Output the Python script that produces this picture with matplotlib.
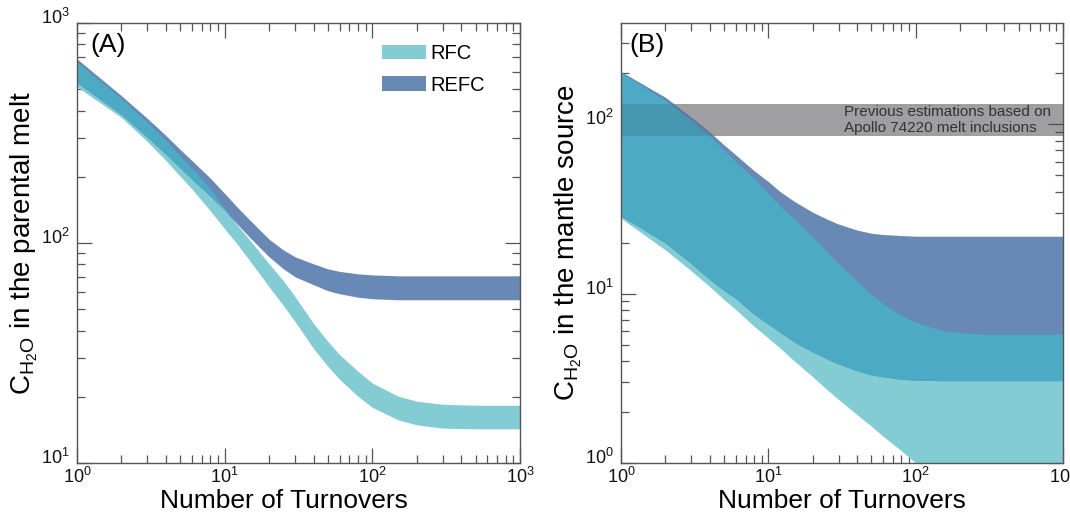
import numpy as np
import matplotlib
matplotlib.use("Agg")
import matplotlib.pyplot as plt
from matplotlib.patches import Patch
from matplotlib.ticker import LogLocator, NullFormatter
import matplotlib.transforms as mtransforms

plt.rcParams['font.family'] = ['Liberation Sans', 'DejaVu Sans']
plt.rcParams['mathtext.fontset'] = 'custom'
plt.rcParams['mathtext.rm'] = 'Liberation Sans'
plt.rcParams['mathtext.it'] = 'Liberation Sans:italic'
plt.rcParams['mathtext.bf'] = 'Liberation Sans:bold'

# Number of overturn cycles
turnovers = [1, 2, 3, 4, 5, 6, 8, 10, 12, 15, 20, 25, 30, 40, 50, 60, 80,
             100, 150, 200, 300, 500, 1000]

# (A) water in the parental melt (ppm): lower / upper bounds of each model
melt_rfc_low = [513, 372, 289, 237, 201, 176, 140, 116, 100, 82.0, 63.2, 51.9,
                43.9, 33.1, 27.5, 24.0, 20.1, 17.9, 15.7, 14.9, 14.4, 14.3, 14.3]
melt_rfc_high = [666, 453, 353, 293, 248, 219, 176, 144, 122, 102, 80.4, 67.3,
                 57.0, 43.0, 35.7, 31.1, 26.1, 23.1, 20.1, 19.1, 18.5, 18.3, 18.3]
melt_refc_low = [535, 383, 302, 253, 219, 195, 163, 141, 123, 105, 86.5, 76.3,
                 70.2, 64.6, 60.7, 58.8, 56.7, 55.8, 55.2, 55.2, 55.2, 55.2, 55.2]
melt_refc_high = [687, 467, 368, 308, 266, 237, 197, 168, 147, 126, 104, 93.0,
                  86.5, 80.4, 76.3, 74.3, 72.4, 71.6, 70.9, 70.9, 70.9, 70.9, 70.9]

# (B) water in the mantle source (ppm): lower / upper bounds of each model
source_rfc_low = [27.8, 18.1, 13.6, 11.0, 9.22, 8.06, 6.41, 5.46, 4.77, 4.00, 3.23,
                  2.71, 2.37, 1.93, 1.65, 1.44, 1.18, 1.00, 0.754, 0.616, 0.464,
                  0.327, 0.204]
source_rfc_high = [201, 138, 106, 85.1, 70.5, 59.9, 47.7, 39.0, 33.1, 27.5, 21.5,
                   17.6, 15.0, 11.8, 9.87, 8.74, 7.43, 6.77, 6.08, 5.87, 5.76,
                   5.76, 5.76]
source_refc_low = [28.6, 19.9, 15.0, 12.1, 10.4, 9.35, 7.54, 6.59, 5.91, 5.17, 4.52,
                   4.11, 3.84, 3.50, 3.31, 3.23, 3.12, 3.08, 3.06, 3.06, 3.06,
                   3.06, 3.06]
source_refc_high = [204, 144, 110, 89.8, 75.4, 65.9, 53.1, 45.8, 40.0, 35.0, 30.2,
                    27.5, 25.7, 23.7, 22.7, 22.3, 22.0, 21.8, 21.8, 21.8, 21.8,
                    21.8, 21.8]

# Earlier mantle-source range from Apollo 74220 melt inclusions (ppm)
apollo_range = [84.5, 132]

labels = ["RFC", "REFC"]
c_rfc = "#84CCD4"
c_refc = "#6889B5"
c_both = "#4DAAC4"
axis_grey = "#555555"

fig = plt.figure(figsize=(10.70, 5.18), dpi=100)
axA = fig.add_axes([77 / 1070, 55 / 518, 443 / 1070, 440 / 518])
axB = fig.add_axes([621 / 1070, 55 / 518, 442 / 1070, 440 / 518])


def draw_bands(ax, x, rl, rh, el, eh):
    x = np.asarray(x, float)
    rl, rh, el, eh = (np.asarray(a, float) for a in (rl, rh, el, eh))
    ax.fill_between(x, rl, rh, color=c_rfc, lw=0, zorder=2)
    ax.fill_between(x, el, eh, color=c_refc, lw=0, zorder=2.1)
    lo = np.maximum(rl, el)
    hi = np.minimum(rh, eh)
    ax.fill_between(x, lo, hi, where=hi > lo, interpolate=True,
                    color=c_both, lw=0, zorder=2.2)


def style_axes(ax, ylim, xlabel_x):
    ax.set_xscale("log")
    ax.set_yscale("log")
    ax.set_xlim(1, 1000)
    ax.set_ylim(*ylim)
    for s in ax.spines.values():
        s.set_color(axis_grey)
        s.set_linewidth(1.0)
        s.set_zorder(5)
    ax.xaxis.set_major_locator(LogLocator(base=10, numticks=10))
    ax.yaxis.set_major_locator(LogLocator(base=10, numticks=10))
    ax.xaxis.set_minor_locator(LogLocator(base=10, subs=np.arange(2, 10), numticks=20))
    ax.yaxis.set_minor_locator(LogLocator(base=10, subs=np.arange(2, 10), numticks=20))
    ax.xaxis.set_minor_formatter(NullFormatter())
    ax.yaxis.set_minor_formatter(NullFormatter())
    ax.tick_params(which="both", direction="in", top=True, right=True,
                   color=axis_grey, width=0.9, labelsize=13, labelcolor="#111111")
    ax.tick_params(which="major", length=11)
    ax.tick_params(axis="x", which="major", pad=3)
    ax.tick_params(axis="y", which="major", pad=5)
    ax.tick_params(which="minor", length=5.5)
    # y tick labels sit a little above their ticks
    lift = mtransforms.ScaledTranslation(0, 5 / 72, fig.dpi_scale_trans)
    for lab in ax.get_yticklabels():
        lab.set_transform(lab.get_transform() + lift)
    ax.set_xlabel("Number of Turnovers", fontsize=19)
    ax.xaxis.set_label_coords(xlabel_x, -0.058)


# Panel A
draw_bands(axA, turnovers, melt_rfc_low, melt_rfc_high, melt_refc_low, melt_refc_high)
style_axes(axA, (10, 1000), 0.467)
axA.set_ylabel(r"C$_{\mathrm{H_2O}}$ in the parental melt", fontsize=20, labelpad=1)
axA.text(0.03, 0.978, "(A)", transform=axA.transAxes, fontsize=19, va="top", ha="left")
handles = [Patch(facecolor=c_rfc, edgecolor="none"), Patch(facecolor=c_refc, edgecolor="none")]
axA.legend(handles, labels, loc="upper left", bbox_to_anchor=(0.688, 0.952),
           frameon=False, fontsize=14.5, handlelength=2.2, handleheight=0.72,
           handletextpad=0.2, labelspacing=0.62, borderpad=0, borderaxespad=0)

# Panel B
axB.axhspan(apollo_range[0], apollo_range[1], color="#B2B2B5", lw=0, zorder=1)
draw_bands(axB, turnovers, source_rfc_low, source_rfc_high, source_refc_low, source_refc_high)
axB.axhspan(apollo_range[0], apollo_range[1], color="black", alpha=0.1, lw=0, zorder=3)
style_axes(axB, (1, 395), 0.5)
axB.set_ylabel(r"C$_{\mathrm{H_2O}}$ in the mantle source", fontsize=20, labelpad=1)
axB.text(0.02, 0.978, "(B)", transform=axB.transAxes, fontsize=19, va="top", ha="left")
trans = mtransforms.blended_transform_factory(axB.transAxes, axB.transData)
axB.text(0.505, np.sqrt(apollo_range[0] * apollo_range[1]),
         "Previous estimations based on\nApollo 74220 melt inclusions",
         transform=trans, fontsize=11, color="#333333", va="center", ha="left",
         linespacing=1.15, zorder=4)

fig.savefig("out.png", dpi=100)
